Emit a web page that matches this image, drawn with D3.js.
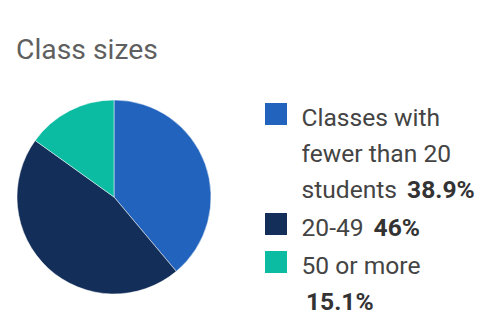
<!DOCTYPE html>
<html>
<head>
<meta charset="utf-8">
<script src="https://cdn.jsdelivr.net/npm/d3@7"></script>
<style>
  body { margin: 0; background: #fff; }
  svg { display: block; font-family: Roboto, sans-serif; }
</style>
</head>
<body>
<div id="chart"></div>
<script>
const categories = ['Classes with fewer than 20 students', '20-49', '50 or more'];
const values = [38.9, 46, 15.1];
const valueLabels = ['38.9%', '46%', '15.1%'];
// how each legend entry wraps, as in the picture
const legendLines = [
  [['Classes with'], ['fewer than 20'], ['students', '38.9%']],
  [['20-49', '46%']],
  [['50 or more'], ['', '15.1%']]
];
const colors = ['#2163bd', '#132f59', '#0bbba2'];

const width = 480, height = 327;
const svg = d3.select('#chart').append('svg')
  .attr('width', width)
  .attr('height', height);

svg.append('text')
  .attr('x', 16)
  .attr('y', 58.5)
  .attr('font-size', 28.3)
  .attr('fill', '#5f5f5f')
  .text('Class sizes');

const cx = 114, cy = 197, r = 97;

const pie = d3.pie().sort(null).value(d => d);
const arc = d3.arc().innerRadius(0).outerRadius(r);

svg.append('g')
  .attr('transform', `translate(${cx},${cy})`)
  .selectAll('path')
  .data(pie(values))
  .join('path')
  .attr('d', arc)
  .attr('fill', (d, i) => colors[i])
  .attr('stroke', '#fff')
  .attr('stroke-width', 0.5);

// legend
const lineH = 36;
const legendTop = [126, 236, 274];
const legend = svg.append('g');

categories.forEach((c, i) => {
  const g = legend.append('g');
  g.append('rect')
    .attr('x', 265)
    .attr('y', legendTop[i] - 23)
    .attr('width', 22)
    .attr('height', 22)
    .attr('fill', colors[i]);
  legendLines[i].forEach((parts, j) => {
    const t = g.append('text')
      .attr('x', parts[0] === '' ? 306 : 301.5)
      .attr('y', legendTop[i] + j * lineH)
      .attr('font-size', 24.6)
      .attr('fill', '#444');
    if (parts[0] !== '') t.append('tspan').text(parts[0]);
    if (parts[1]) {
      t.append('tspan')
        .attr('dx', parts[0] === '' ? 0 : 10)
        .attr('font-weight', 'bold')
        .attr('fill', '#333')
        .text(parts[1]);
    }
  });
});
</script>
</body>
</html>
